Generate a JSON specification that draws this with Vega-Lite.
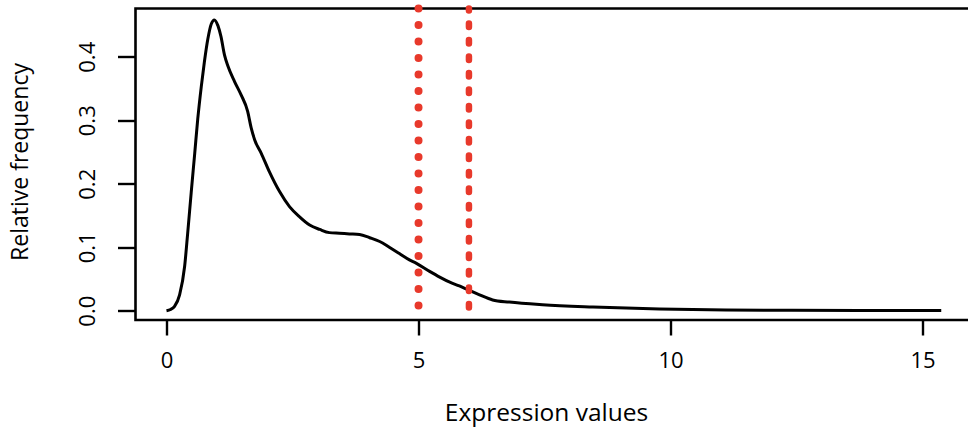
{
  "$schema": "https://vega.github.io/schema/vega-lite/v6.json",
  "width": 837,
  "height": 311.5,
  "autosize": {"type": "none"},
  "padding": {"left": 135.5, "top": 8.5, "right": 0, "bottom": 110},
  "background": "white",
  "config": {
    "view": {"stroke": "black", "strokeWidth": 2.6},
    "font": "Open Sans",
    "axis": {
      "domain": false,
      "grid": false,
      "tickColor": "black",
      "tickWidth": 2.4,
      "labelColor": "black",
      "titleColor": "black",
      "labelFont": "Open Sans",
      "titleFont": "Open Sans",
      "labelFontSize": 22,
      "titleFontSize": 23,
      "titleFontWeight": "normal"
    }
  },
  "layer": [
    {
      "data": {
        "values": [
          {"x": 0.0, "y": 0.0},
          {"x": 0.08, "y": 0.002},
          {"x": 0.16, "y": 0.007},
          {"x": 0.26, "y": 0.025},
          {"x": 0.36, "y": 0.07},
          {"x": 0.42, "y": 0.122},
          {"x": 0.49, "y": 0.186},
          {"x": 0.56, "y": 0.248},
          {"x": 0.62, "y": 0.302},
          {"x": 0.69, "y": 0.353},
          {"x": 0.75, "y": 0.391},
          {"x": 0.82, "y": 0.428},
          {"x": 0.89, "y": 0.452},
          {"x": 0.95, "y": 0.458},
          {"x": 1.02, "y": 0.449},
          {"x": 1.08, "y": 0.432},
          {"x": 1.15, "y": 0.403},
          {"x": 1.22, "y": 0.385},
          {"x": 1.35, "y": 0.361},
          {"x": 1.48, "y": 0.34},
          {"x": 1.61, "y": 0.314},
          {"x": 1.68, "y": 0.288},
          {"x": 1.75, "y": 0.269},
          {"x": 1.88, "y": 0.248},
          {"x": 2.04, "y": 0.219},
          {"x": 2.24, "y": 0.188},
          {"x": 2.44, "y": 0.164},
          {"x": 2.64, "y": 0.148},
          {"x": 2.84, "y": 0.135},
          {"x": 3.04, "y": 0.128},
          {"x": 3.23, "y": 0.123},
          {"x": 3.43, "y": 0.122},
          {"x": 3.63, "y": 0.121},
          {"x": 3.83, "y": 0.12},
          {"x": 4.03, "y": 0.115},
          {"x": 4.23, "y": 0.109},
          {"x": 4.42, "y": 0.1},
          {"x": 4.62, "y": 0.09},
          {"x": 4.82, "y": 0.08},
          {"x": 4.95, "y": 0.075},
          {"x": 5.22, "y": 0.062},
          {"x": 5.42, "y": 0.053},
          {"x": 5.62, "y": 0.045},
          {"x": 5.81, "y": 0.039},
          {"x": 5.98, "y": 0.033},
          {"x": 6.21, "y": 0.025},
          {"x": 6.47, "y": 0.017},
          {"x": 6.8, "y": 0.0136},
          {"x": 7.46, "y": 0.0094},
          {"x": 8.46, "y": 0.0058},
          {"x": 9.78, "y": 0.0027},
          {"x": 11.1, "y": 0.0011},
          {"x": 12.4, "y": 0.0006},
          {"x": 13.75, "y": 0.0003},
          {"x": 15.37, "y": 0.0002}
        ]
      },
      "mark": {"type": "line", "color": "black", "strokeWidth": 3, "interpolate": "monotone"},
      "encoding": {
        "x": {
          "field": "x",
          "type": "quantitative",
          "scale": {"domain": [-0.615, 15.99], "nice": false, "zero": false},
          "axis": {
            "values": [0, 5, 10, 15],
            "format": "d",
            "tickSize": 15,
            "labelPadding": 15,
            "title": "Expression values",
            "titleFontSize": 24.5,
            "titleBaseline": "middle",
            "titleX": 410.5,
            "titleY": 93
          }
        },
        "y": {
          "field": "y",
          "type": "quantitative",
          "scale": {"domain": [-0.0146, 0.476], "nice": false, "zero": false},
          "axis": {
            "values": [0, 0.1, 0.2, 0.3, 0.4],
            "format": ".1f",
            "tickSize": 18,
            "labelAngle": -90,
            "labelAlign": "center",
            "labelBaseline": "bottom",
            "labelPadding": 18,
            "title": "Relative frequency",
            "titleAngle": -90,
            "titleBaseline": "middle",
            "titleAlign": "center",
            "titleX": -115,
            "titleY": 153
          }
        }
      }
    },
    {
      "data": {"values": [{"x": 5}]},
      "mark": {"type": "rule", "color": "#e8392b", "strokeWidth": 8, "strokeCap": "round", "strokeDash": [0.1, 16.4]},
      "encoding": {"x": {"field": "x", "type": "quantitative"}}
    },
    {
      "data": {"values": [{"x": 6}]},
      "mark": {"type": "rule", "color": "#e8392b", "strokeWidth": 6.5, "strokeCap": "round", "strokeDash": [3.5, 13], "strokeDashOffset": 1.5},
      "encoding": {"x": {"field": "x", "type": "quantitative"}}
    }
  ]
}
